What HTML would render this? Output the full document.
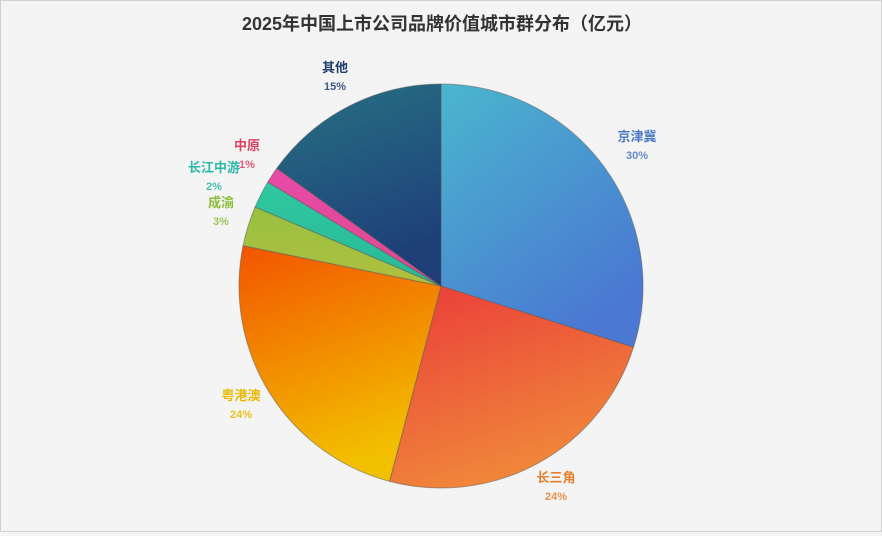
<!DOCTYPE html>
<html><head><meta charset="utf-8"><style>
html,body{margin:0;padding:0;background:#f4f4f4}
#wrap{width:880px;height:530px;border:1px solid #d0d0d0;background:#f4f4f4;position:relative}
svg text{font-family:"Liberation Sans","Noto Sans CJK SC",sans-serif;font-weight:bold}
</style></head><body>
<div id="wrap">
<svg id="chart" width="880" height="530">
<defs>
<linearGradient id="g0" x1="0" y1="0" x2="0.6" y2="1"><stop offset="0" stop-color="#4ab6ce"/><stop offset="1" stop-color="#4a78d2"/></linearGradient>
<linearGradient id="g1" x1="0" y1="0" x2="0.4" y2="1"><stop offset="0" stop-color="#ea3c3a"/><stop offset="1" stop-color="#f0883a"/></linearGradient>
<linearGradient id="g2" x1="0" y1="0" x2="0.3" y2="1"><stop offset="0" stop-color="#f25400"/><stop offset="1" stop-color="#f2c000"/></linearGradient>
<linearGradient id="g3" x1="0" y1="0" x2="0" y2="1"><stop offset="0" stop-color="#98c040"/><stop offset="1" stop-color="#b0c040"/></linearGradient>
<linearGradient id="g4" x1="0" y1="0" x2="0" y2="1"><stop offset="0" stop-color="#30c8a0"/><stop offset="1" stop-color="#28b898"/></linearGradient>
<linearGradient id="g5" x1="0" y1="0" x2="0" y2="1"><stop offset="0" stop-color="#e84aa8"/><stop offset="1" stop-color="#e04890"/></linearGradient>
<linearGradient id="g6" x1="0" y1="0" x2="0.3" y2="1"><stop offset="0" stop-color="#267284"/><stop offset="1" stop-color="#1e3e78"/></linearGradient>
</defs>
<text x="441" y="29" text-anchor="middle" font-size="18" fill="#333">2025年中国上市公司品牌价值城市群分布（亿元）</text>
<g id="slices"></g>
<g id="labels"></g>
</svg>
</div>
<script>
const categories=["京津冀","长三角","粤港澳","成渝","长江中游","中原","其他"];
const values=[29.9,24.2,24.1,3.2,2.2,1.3,15.1];
const pctLabels=["30%","24%","24%","3%","2%","1%","15%"];
const fills=["url(#g0)","url(#g1)","url(#g2)","url(#g3)","url(#g4)","url(#g5)","url(#g6)"];
const labelColors=["#4a78c8","#e87d2e","#e8b800","#8cbf3a","#2bb8a8","#e04060","#1f3c70"];
const labelPos=[[636,140],[555,481],[240,399],[220,206],[213,171],[246,149],[334,71]];
const cx=440,cy=285,r=202;
const ns="http://www.w3.org/2000/svg";
const total=values.reduce((a,b)=>a+b,0);
const sg=document.getElementById('slices'),lg=document.getElementById('labels');
function pt(a){return [cx+r*Math.sin(a),cy-r*Math.cos(a)];}
let cum=0;
values.forEach((v,i)=>{
  const a0=cum/total*2*Math.PI;cum+=v;const a1=cum/total*2*Math.PI;
  const p0=pt(a0),p1=pt(a1);const large=(a1-a0)>Math.PI?1:0;
  const p=document.createElementNS(ns,'path');
  p.setAttribute('d',`M${cx},${cy}L${p0[0]},${p0[1]}A${r},${r} 0 ${large} 1 ${p1[0]},${p1[1]}Z`);
  p.setAttribute('fill',fills[i]);p.setAttribute('stroke','rgba(90,90,90,0.5)');p.setAttribute('stroke-width','1');
  
  
  sg.appendChild(p);
  const [lx,ly]=labelPos[i];
  const t=document.createElementNS(ns,'text');
  t.setAttribute('x',lx);t.setAttribute('y',ly);t.setAttribute('text-anchor','middle');t.setAttribute('font-size','13');t.setAttribute('fill',labelColors[i]);
  t.textContent=categories[i];
  
  
  lg.appendChild(t);
  const t2=document.createElementNS(ns,'text');
  t2.setAttribute('x',lx);t2.setAttribute('y',ly+18);t2.setAttribute('text-anchor','middle');t2.setAttribute('font-size','11');t2.setAttribute('fill',labelColors[i]);t2.setAttribute('opacity','0.85');
  t2.textContent=pctLabels[i];
  
  
  lg.appendChild(t2);
});
</script>
</body></html>
